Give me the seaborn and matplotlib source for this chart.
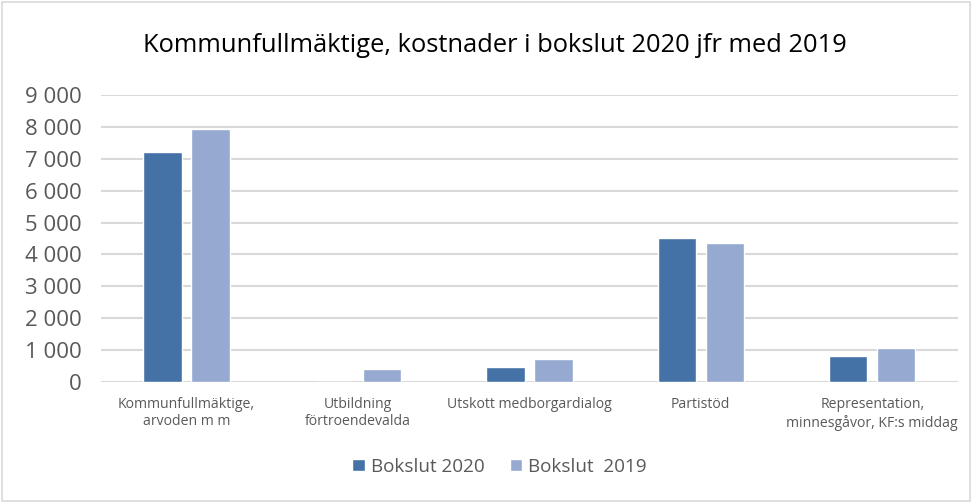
import matplotlib
matplotlib.use("Agg")
import matplotlib.pyplot as plt
import seaborn as sns
import pandas as pd
from matplotlib.patches import Rectangle

categories = ["Kommunfullmäktige,\narvoden m m", "Utbildning\nförtroendevalda",
              "Utskott medborgardialog", "Partistöd",
              "Representation,\nminnesgåvor, KF:s middag"]
series_names = ["Bokslut 2020", "Bokslut  2019"]
values_2020 = [7210, 0, 460, 4530, 810]
values_2019 = [7930, 410, 710, 4370, 1050]
yticks = [0, 1000, 2000, 3000, 4000, 5000, 6000, 7000, 8000, 9000]
ytick_labels = ["0", "1 000", "2 000", "3 000", "4 000", "5 000", "6 000", "7 000", "8 000", "9 000"]

df = pd.DataFrame({
    "cat": categories * 2,
    "serie": [series_names[0]] * 5 + [series_names[1]] * 5,
    "val": values_2020 + values_2019,
})

sns.set_theme(style="white")
plt.rcParams['font.family'] = ['Open Sans', 'DejaVu Sans']

fig = plt.figure(figsize=(9.74, 5.03), dpi=100)
ax = fig.add_axes([0.1035, 0.2406, 0.880, 0.5706])
palette = ["#4472A6", "#95A9D1"]
sns.barplot(data=df, x="cat", y="val", hue="serie", palette=palette, ax=ax,
            width=0.56, gap=0.2, saturation=1, legend=True)

ax.set_ylim(0, 9000)
ax.set_xlim(-0.5, 4.5)
ax.set_yticks(yticks)
ax.set_yticklabels(ytick_labels, fontsize=16, color="#595959")
ax.tick_params(axis="x", labelsize=10.1, colors="#595959", length=0, pad=11)
ax.tick_params(axis="y", length=0, pad=14)
ax.set_xlabel("")
ax.set_ylabel("")
ax.grid(axis="y", color="#D9D9D9", linewidth=1.5)
ax.set_axisbelow(True)
for s in ax.spines.values():
    s.set_visible(False)

fig.text(0.508, 0.91, "Kommunfullmäktige, kostnader i bokslut 2020 jfr med 2019",
         ha="center", va="center", fontsize=18.4, color="#000000")

h, l = ax.get_legend_handles_labels()
ax.legend_.remove()
fig.legend(h, l, loc="center", bbox_to_anchor=(0.513, 0.072), ncol=2, frameon=False,
           fontsize=13.6, handlelength=0.65, handleheight=0.65, handletextpad=0.35,
           columnspacing=1.3, labelcolor="#595959")

fig.patches.append(Rectangle((0.002, 0.003), 0.994, 0.993, transform=fig.transFigure,
                             fill=False, edgecolor="#D9D9D9", linewidth=1.2))

fig.savefig("out.png", dpi=100)
